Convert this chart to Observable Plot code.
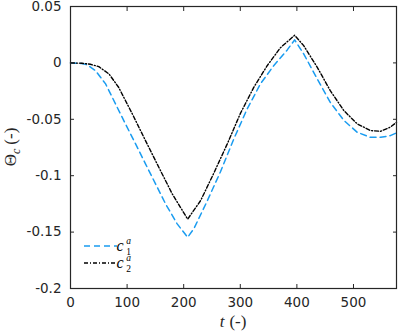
<!DOCTYPE html>
<html><head><meta charset="utf-8">
<script src="https://cdn.jsdelivr.net/npm/d3@7"></script>
<script src="https://cdn.jsdelivr.net/npm/@observablehq/plot@0.6"></script>
<style>body{margin:0;background:#fff} svg{display:block}</style>
</head><body><div id="chart"></div>
<script>
// Series c1^a (blue dashed)
const tC1 = [0, 20, 30, 44, 62, 79.5, 97, 115, 132.5, 150, 168, 188.5, 207, 218, 241.5, 265, 288.5, 312, 335.7, 359, 383, 396, 412, 436, 459, 483, 506.5, 530, 548, 565, 576];
const valC1 = [0, -0.0005, -0.0018, -0.0068, -0.0186, -0.0363, -0.054, -0.0718, -0.0895, -0.107, -0.125, -0.1427, -0.1546, -0.147, -0.1225, -0.0965, -0.0675, -0.041, -0.0185, -0.0025, 0.0115, 0.0204, 0.008, -0.0142, -0.035, -0.051, -0.0615, -0.066, -0.066, -0.0645, -0.062];
// Series c2^a (black dash-dot)
const tC2 = [0, 20, 35, 50, 68, 85, 109, 132.5, 156, 179.6, 207, 230, 253, 277, 300, 324, 347.5, 371, 396, 412, 436, 459, 483, 506.5, 530, 548, 565, 576];
const valC2 = [0, -0.0003, -0.0012, -0.0033, -0.0098, -0.0216, -0.045, -0.0689, -0.0925, -0.116, -0.1385, -0.122, -0.098, -0.0718, -0.045, -0.0215, -0.0025, 0.0135, 0.0245, 0.0153, -0.0039, -0.0246, -0.0423, -0.054, -0.06, -0.0606, -0.057, -0.0527];

const xTicks = [0, 100, 200, 300, 400, 500];
const xTickLabels = ["0", "100", "200", "300", "400", "500"];
const yTicks = [-0.2, -0.15, -0.1, -0.05, 0, 0.05];
const yTickLabels = ["-0.2", "-0.15", "-0.1", "-0.05", "0", "0.05"];

const colors = {c1: "#1a9cf0", c2: "#000000"};
const dashes = {c1: "6,4", c2: "4,2,1,2"};

const data1 = tC1.map((t, i) => ({t, v: valC1[i]}));
const data2 = tC2.map((t, i) => ({t, v: valC2[i]}));

const axisColor = "#262626";
const plot = Plot.plot({
  width: 399, height: 335,
  marginLeft: 70, marginRight: 3, marginTop: 6, marginBottom: 47,
  style: {fontFamily: "'DejaVu Sans', Arial, sans-serif", fontSize: "13.5px", color: axisColor, background: "white", overflow: "visible"},
  x: {domain: [0, 576], label: null},
  y: {domain: [-0.2, 0.05], label: null},
  marks: [
    Plot.line(data1, {x: "t", y: "v", stroke: colors.c1, strokeWidth: 1.5, strokeDasharray: dashes.c1}),
    Plot.line(data2, {x: "t", y: "v", stroke: colors.c2, strokeWidth: 1.4, strokeDasharray: dashes.c2}),
    Plot.axisX(xTicks, {anchor: "bottom", tickSize: -4, fill: "none", stroke: axisColor}),
    Plot.axisX(xTicks, {anchor: "top", tickSize: -4, fill: "none", stroke: axisColor}),
    Plot.axisY(yTicks, {anchor: "left", tickSize: -4, fill: "none", stroke: axisColor}),
    Plot.axisY(yTicks, {anchor: "right", tickSize: -4, fill: "none", stroke: axisColor}),
    Plot.axisX(xTicks, {anchor: "bottom", tickSize: 0, tickPadding: 9, fill: axisColor, tickFormat: d => xTickLabels[xTicks.indexOf(d)]}),
    Plot.axisY(yTicks, {anchor: "left", tickSize: 0, tickPadding: 9, fill: axisColor, tickFormat: d => yTickLabels[yTicks.indexOf(d)]}),
    Plot.frame({stroke: axisColor, strokeWidth: 1.2})
  ]
});

const svg = d3.select(plot);
const serif = "'Liberation Serif', 'DejaVu Serif', serif";
// x label
const xl = svg.append("text").attr("x", 233).attr("y", 327).attr("text-anchor", "middle")
  .attr("font-family", serif).attr("font-size", 17).attr("fill", axisColor);
xl.append("tspan").attr("font-style", "italic").text("t");
xl.append("tspan").attr("dx", 5).text("(-)");
// y label
const yl = svg.append("text").attr("transform", "translate(16,147) rotate(-90)").attr("text-anchor", "middle")
  .attr("font-family", serif).attr("font-size", 17).attr("fill", axisColor);
yl.append("tspan").text("Θ");
yl.append("tspan").attr("font-style", "italic").attr("font-size", 12).attr("dy", 4).text("c");
yl.append("tspan").attr("dy", -4).attr("dx", 4).text("(-)");

// legend
const leg = svg.append("g");
const entries = [{key: "c1", sub: "1", y: 246}, {key: "c2", sub: "2", y: 263}];
entries.forEach(e => {
  leg.append("line").attr("x1", 84).attr("x2", 117).attr("y1", e.y).attr("y2", e.y)
    .attr("stroke", colors[e.key]).attr("stroke-width", 1.5).attr("stroke-dasharray", dashes[e.key]);
  leg.append("text").attr("x", 120).attr("y", e.y + 5).attr("font-family", serif).attr("font-style", "italic")
    .attr("font-size", 16).attr("fill", "#000").text("c");
  leg.append("text").attr("x", 128.5).attr("y", e.y - 2.5).attr("font-family", serif).attr("font-style", "italic")
    .attr("font-size", 9.5).attr("fill", "#000").text("a");
  leg.append("text").attr("x", 128.5).attr("y", e.y + 8.5).attr("font-family", serif)
    .attr("font-size", 9.5).attr("fill", "#000").text(e.sub);
});

document.getElementById("chart").appendChild(plot);
</script>
</body></html>
